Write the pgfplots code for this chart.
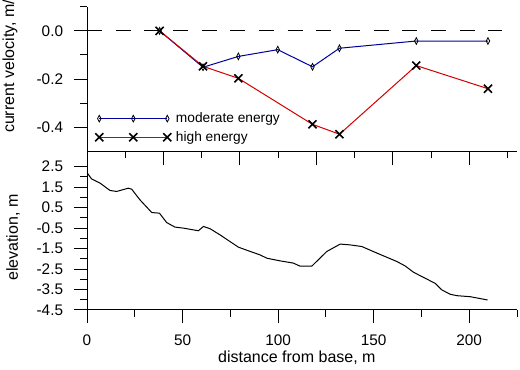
\documentclass[border=0pt]{standalone}
\usepackage{fontspec}
\setmainfont{Liberation Sans}
\usepackage{pgfplots}
\pgfplotsset{compat=1.18}
\definecolor{modblue}{RGB}{0,0,160}
\definecolor{hired}{RGB}{210,0,0}
\pgfplotsset{
  panel/.style={
    scale only axis, width=322.5pt,
    xmin=0, xmax=225,
    axis lines*=left,
    tick align=outside,
    major tick length=9.75pt, minor tick length=5.25pt,
    tick style={black, line width=0.75pt},
    axis line style={black, line width=0.75pt},
    /pgf/number format/assume math mode=true,
    tick label style={font=\fontsize{11.5}{13}\selectfont},
    label style={font=\fontsize{11.25}{13}\selectfont},
    yticklabel style={anchor=east, xshift=-4pt},
    clip=false,
  },
  modleg/.style={legend image code/.code={%
    \draw[modblue, line width=0.75pt] (0pt,0pt) -- (51pt,0pt);
    \draw[mark repeat=1,mark phase=1,##1] plot coordinates {(0pt,0pt) (25.5pt,0pt) (51pt,0pt)};}},
  hileg/.style={legend image code/.code={%
    \draw[hired, line width=0.8pt] (0pt,0pt) -- (51pt,0pt);
    \draw[mark repeat=1,mark phase=1,##1] plot coordinates {(0pt,0pt) (25.5pt,0pt) (51pt,0pt)};}},
}
\begin{document}
\fontsize{12}{14}\selectfont
\begin{tikzpicture}
\useasboundingbox (-65.25pt,-45pt) rectangle (324.75pt,232.5pt);
% bottom panel: elevation
\begin{axis}[panel,
  at={(0pt,0pt)}, anchor=south west,
  height=119pt,
  ymin=-4.5, ymax=3.25,
  xtick={0,50,100,150,200}, minor xtick={25,75,125,175,225},
  xticklabels={0,50,100,150,200},
  xticklabel style={yshift=-5pt},
  ytick={-4.5,-3.5,-2.5,-1.5,-0.5,0.5,1.5,2.5},
  yticklabels={-4.5,-3.5,-2.5,-1.5,-0.5,0.5,1.5,2.5},
  minor ytick={-4,-3,-2,-1,0,1,2},
  xlabel={distance from base, m},
  ylabel={elevation, m},
  every axis x label/.style={at={(axis description cs:0.488,-0.296)}, anchor=base, yshift=-4pt, font=\fontsize{12}{14}\selectfont},
  every axis y label/.style={at={(axis description cs:-0.172,0.456)}, rotate=90, anchor=center},
]
\addplot[black, line width=0.75pt] coordinates {
(0,2.21) (2.4,1.9) (6.8,1.7) (12,1.34) (15.5,1.29) (21.6,1.45) (23.4,1.4)
(27.7,0.88) (33.9,0.26) (37.9,0.23) (41.7,-0.23) (46,-0.45) (50.4,-0.5)
(58.3,-0.63) (60.9,-0.42) (64.4,-0.53) (69.6,-0.83) (74.9,-1.16) (79.2,-1.43)
(84.5,-1.61) (90.6,-1.81) (94.1,-1.97) (101,-2.1) (108,-2.21) (111.5,-2.36)
(117.6,-2.36) (125.5,-1.64) (132.5,-1.28) (137.7,-1.32) (143.8,-1.4)
(151.7,-1.72) (162.1,-2.13) (166.5,-2.35) (170.9,-2.66) (177,-2.95)
(182.2,-3.2) (185.7,-3.52) (190,-3.73) (193.5,-3.8) (200.5,-3.85) (209.6,-4.01)
};
\end{axis}
% top panel: current velocity
\begin{axis}[panel,
  at={(0pt,119pt)}, anchor=south west,
  height=108.4pt,
  ymin=-0.5, ymax=0.1,
  xtick={0,40,80,120,160,200}, minor xtick={20,60,100,140,180,220},
  xticklabels={},
  major x tick style={/pgfplots/major tick length=10.5pt},
  ytick={-0.4,-0.2,0}, yticklabels={-0.4,-0.2,0.0},
  minor ytick={-0.3,-0.1,0.1},
  ylabel={current velocity, m/s},
  every axis y label/.style={at={(axis description cs:-0.179,0.615)}, rotate=90, anchor=center},
  legend style={at={(axis cs:4.2,-0.403)}, anchor=west, draw=none, fill=none,
    inner sep=0pt, row sep=2.75pt, column sep=2.5pt, font=\fontsize{10.3}{12}\selectfont,
    nodes={inner sep=1pt}},
  legend cell align=left,
]
\addplot[black, line width=0.75pt, dash pattern=on 11.25pt off 10.25pt, forget plot] coordinates {(0,0) (217,0)};
\addplot[modblue, line width=0.75pt, mark=diamond, mark size=2.5pt,
  mark options={black, fill=white, xscale=0.7, line width=0.6pt, solid}, modleg] coordinates {
(38,0) (60.7,-0.151) (79.2,-0.106) (99.8,-0.078) (118,-0.149) (132.1,-0.072) (172.3,-0.042) (209.8,-0.042)
};
\addlegendentry{moderate energy}
\addplot[hired, line width=0.75pt, mark=x, mark size=4.25pt,
  mark options={black, line width=1.2pt, solid}, hileg] coordinates {
(38,0) (60.7,-0.147) (79.2,-0.197) (118,-0.388) (132.1,-0.429) (172.3,-0.144) (209.8,-0.240)
};
\addlegendentry{high energy}
\end{axis}
\end{tikzpicture}
\end{document}
